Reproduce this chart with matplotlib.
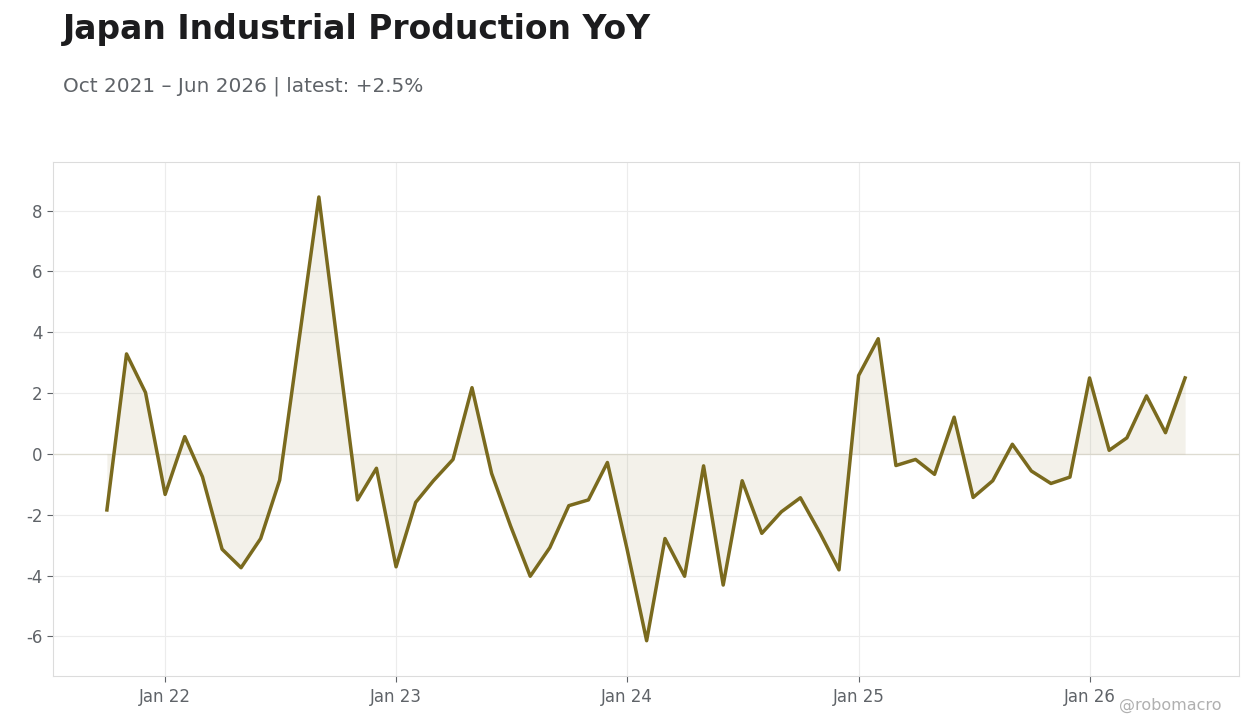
import numpy as np
import pandas as pd
import matplotlib
matplotlib.use('Agg')
import matplotlib.pyplot as plt
import matplotlib.dates as mdates

# Monthly YoY % change, Oct 2021 .. Jun 2026
start_month = '2021-10-01'
yoy = [
    -1.84, 3.29, 2.02,                                  # Oct-Dec 21
    -1.33, 0.57, -0.75, -3.13, -3.74, -2.78,            # 2022
    -0.86, 3.8, 8.45, 3.5, -1.51, -0.47,
    -3.71, -1.59, -0.88, -0.18, 2.18, -0.64,            # 2023
    -2.37, -4.02, -3.08, -1.70, -1.51, -0.28,
    -3.12, -6.14, -2.78, -4.02, -0.39, -4.31,           # 2024
    -0.88, -2.61, -1.90, -1.44, -2.60, -3.81,
    2.58, 3.79, -0.38, -0.18, -0.67, 1.21,              # 2025
    -1.43, -0.88, 0.32, -0.56, -0.97, -0.76,
    2.50, 0.12, 0.53, 1.91, 0.70, 2.50,                 # 2026
]
dates = pd.date_range(start_month, periods=len(yoy), freq='MS')

title = 'Japan Industrial Production YoY'
subtitle = f'Oct 2021 \u2013 Jun 2026 | latest: {yoy[-1]:+.1f}%'

LINE = '#7a6a1e'
GRID = '#ececec'
SPINE = '#dcdcdc'
TEXT_GRAY = '#5f6368'

fig = plt.figure(figsize=(12.6, 7.28), dpi=100)
ax = fig.add_axes([53 / 1260, 1 - 676 / 728, (1239 - 53) / 1260, (676 - 162) / 728])

ax.fill_between(dates, yoy, 0, color=LINE, alpha=0.09, linewidth=0)
ax.plot(dates, yoy, color=LINE, linewidth=2.5, solid_joinstyle='round')
ax.axhline(0, color=LINE, alpha=0.12, linewidth=1)

ax.set_ylim(-7.3, 9.6)
ax.set_yticks(np.arange(-6, 9, 2))
ax.set_yticklabels([f'{v:d}' for v in range(-6, 9, 2)])
ax.xaxis.set_major_locator(mdates.YearLocator(month=1))
ax.xaxis.set_major_formatter(mdates.DateFormatter('Jan %y'))
ax.margins(x=0.05)

ax.grid(True, color=GRID, linewidth=0.8)
ax.set_axisbelow(True)
for s in ax.spines.values():
    s.set_color(SPINE)
ax.tick_params(colors=TEXT_GRAY, labelsize=12, length=4, width=0.8)
ax.tick_params(axis='x', pad=5)

fig.text(63 / 1260, 1 - 30 / 728, title, fontsize=23.8, fontweight='bold',
         color='#1c1c1e', va='center', ha='left')
fig.text(63 / 1260, 1 - 86 / 728, subtitle, fontsize=14.4, color=TEXT_GRAY,
         va='center', ha='left')
fig.text(1222 / 1260, 1 - 705 / 728, '@robomacro', fontsize=11.5,
         color='#b0b0b0', va='center', ha='right')

fig.savefig('out.png', dpi=100)
